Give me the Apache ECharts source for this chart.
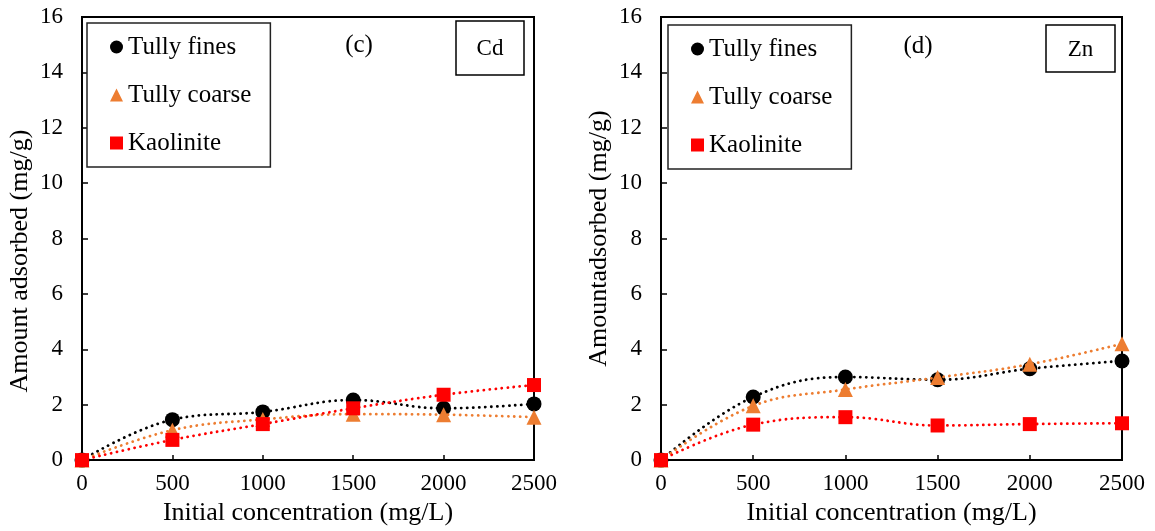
<!DOCTYPE html>
<html>
<head>
<meta charset="utf-8">
<script src="https://cdn.jsdelivr.net/npm/echarts@6/dist/echarts.min.js"></script>
<style>
  html, body { margin: 0; padding: 0; background: #fff; }
  #chart { width: 1155px; height: 531px; }
</style>
</head>
<body>
<div id="chart"></div>
<script>
// Initial metal concentration (mg/L)
const concentrations = [0, 500, 1000, 1500, 2000, 2500];

// Cd adsorbed (mg/g)
const cdTullyFines  = [0, 1.46, 1.74, 2.17, 1.87, 2.03];
const cdTullyCoarse = [0, 1.08, 1.47, 1.66, 1.64, 1.55];
const cdKaolinite   = [0, 0.73, 1.30, 1.87, 2.36, 2.71];

// Zn adsorbed (mg/g)
const znTullyFines  = [0, 2.28, 3.00, 2.90, 3.30, 3.58];
const znTullyCoarse = [0, 1.96, 2.55, 2.98, 3.46, 4.20];
const znKaolinite   = [0, 1.28, 1.55, 1.25, 1.30, 1.33];

const soilNames = ['Tully fines', 'Tully coarse', 'Kaolinite'];
const panelLabels = ['(c)', '(d)'];
const metalLabels = ['Cd', 'Zn'];
const xTitle = 'Initial concentration (mg/L)';
const yTitles = ['Amount adsorbed (mg/g)', 'Amountadsorbed (mg/g)'];

const FONT = '"Liberation Serif", "Times New Roman", serif';
const colors = ['#000000', '#ED7D31', '#FF0000'];
const symbols = ['circle', 'triangle', 'rect'];
const symbolSizes = [15, 15, 14];

const pairs = ys => concentrations.map((x, i) => [x, ys[i]]);

function makeSeries(name, ys, idx, axisIdx) {
  return {
    name: name,
    type: 'line',
    xAxisIndex: axisIdx,
    yAxisIndex: axisIdx,
    data: pairs(ys),
    smooth: 0.4,
    symbol: symbols[idx],
    symbolSize: symbolSizes[idx],
    showSymbol: true,
    itemStyle: { color: colors[idx] },
    lineStyle: { color: colors[idx], width: 2.8, type: [0.1, 5.9], cap: 'round' },
    emphasis: { disabled: true },
    z: 3 + idx
  };
}

function makeXAxis(gridIndex, gap) {
  return {
    type: 'value', gridIndex: gridIndex,
    min: 0, max: 2500, interval: 500,
    name: xTitle, nameLocation: 'middle', nameGap: gap,
    nameTextStyle: { fontFamily: FONT, fontSize: 26, color: '#000' },
    axisLine: { show: true, lineStyle: { color: '#000', width: 2 } },
    axisTick: { show: true, inside: true, length: 5, lineStyle: { color: '#000', width: 1.5 } },
    axisLabel: { fontFamily: FONT, fontSize: 23, color: '#000', margin: 12, formatter: v => String(v) },
    splitLine: { show: false }
  };
}

function makeYAxis(gridIndex, title, shift) {
  return {
    type: 'value', gridIndex: gridIndex,
    min: 0, max: 16, interval: 2,
    name: title, nameLocation: 'middle', nameGap: 49,
    nameTextStyle: { fontFamily: FONT, fontSize: 26, color: '#000', padding: [0, shift, 0, 0] },
    axisLine: { show: true, lineStyle: { color: '#000', width: 2 } },
    axisTick: { show: true, inside: true, length: 6, lineStyle: { color: '#000', width: 1.5 } },
    axisLabel: { fontFamily: FONT, fontSize: 23, color: '#000', margin: 19, formatter: v => String(v) },
    splitLine: { show: false }
  };
}

function makeLegend(left, top) {
  return {
    orient: 'vertical', left: left, top: top,
    data: soilNames.map((n, i) => ({ name: n, icon: symbols[i] })),
    itemWidth: 13, itemHeight: 13, itemGap: 22,
    padding: [11, 19, 11, 23],
    borderColor: '#222', borderWidth: 1.5,
    backgroundColor: '#fff',
    selectedMode: false,
    textStyle: { fontFamily: FONT, fontSize: 25, lineHeight: 26, color: '#000' }
  };
}

function boxLabel(text, x, y, w, h) {
  return {
    type: 'group',
    children: [
      { type: 'rect', shape: { x: x, y: y, width: w, height: h },
        style: { fill: '#fff', stroke: '#000', lineWidth: 1.5 }, z: 10 },
      { type: 'text', x: x + w / 2, y: y + h / 2 + 1, z: 11,
        style: { text: text, font: '23px ' + FONT, fill: '#000', align: 'center', verticalAlign: 'middle' } }
    ]
  };
}

function panelText(text, x, y) {
  return { type: 'text', x: x, y: y, z: 11,
    style: { text: text, font: '25px ' + FONT, fill: '#000', align: 'center', verticalAlign: 'middle' } };
}

const chart = echarts.init(document.getElementById('chart'), null, { renderer: 'canvas' });

chart.setOption({
  animation: false,
  backgroundColor: '#fff',
  grid: [
    { left: 82, top: 17, width: 452, height: 444, show: true, borderColor: '#000', borderWidth: 2, backgroundColor: 'transparent' },
    { left: 661, top: 17, width: 461, height: 447, show: true, borderColor: '#000', borderWidth: 2, backgroundColor: 'transparent' }
  ],
  xAxis: [makeXAxis(0, 38), makeXAxis(1, 35)],
  yAxis: [makeYAxis(0, yTitles[0], 45), makeYAxis(1, yTitles[1], 0)],
  legend: [makeLegend(87, 23), makeLegend(668, 25)],
  graphic: [
    panelText(panelLabels[0], 359, 45),
    boxLabel(metalLabels[0], 456, 21, 68, 54),
    panelText(panelLabels[1], 918, 46),
    boxLabel(metalLabels[1], 1046, 25, 69, 47)
  ],
  series: [
    makeSeries(soilNames[0], cdTullyFines, 0, 0),
    makeSeries(soilNames[1], cdTullyCoarse, 1, 0),
    makeSeries(soilNames[2], cdKaolinite, 2, 0),
    makeSeries(soilNames[0], znTullyFines, 0, 1),
    makeSeries(soilNames[1], znTullyCoarse, 1, 1),
    makeSeries(soilNames[2], znKaolinite, 2, 1)
  ]
});
</script>
</body>
</html>
